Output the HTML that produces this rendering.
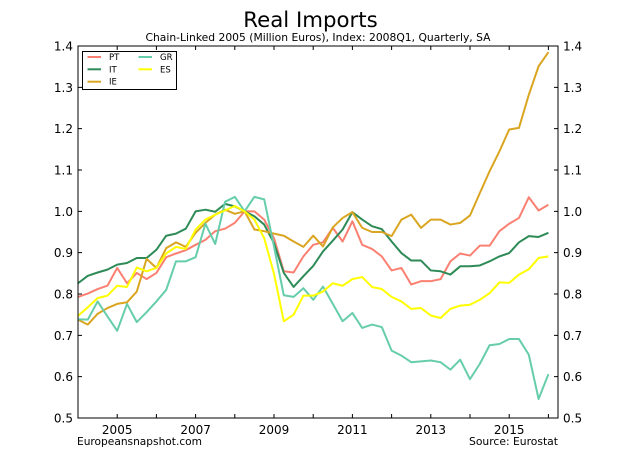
<!DOCTYPE html>
<html><head><meta charset="utf-8"><style>
html,body{margin:0;padding:0;background:#fff;}
svg{display:block;font-family:"DejaVu Sans","Liberation Sans",sans-serif;}
</style></head><body>
<svg width="620" height="465" viewBox="0 0 620 465" xmlns="http://www.w3.org/2000/svg">
<rect width="620" height="465" fill="#fff"/>
<text x="310.5" y="27" font-size="21.3" text-anchor="middle" fill="#000">Real Imports</text>
<text x="318" y="41" font-size="10.7" text-anchor="middle" fill="#000" textLength="345" lengthAdjust="spacingAndGlyphs">Chain-Linked 2005 (Million Euros), Index: 2008Q1, Quarterly, SA</text>

<g fill="none" stroke-width="2" stroke-linejoin="round" transform="matrix(9.8 0 0 -413.333 78 624.667)">
<polyline vector-effect="non-scaling-stroke" stroke="#FA8072" points="0,0.793 1,0.801 2,0.812 3,0.820 4,0.863 5,0.826 6,0.851 7,0.836 8,0.851 9,0.889 10,0.898 11,0.906 12,0.919 13,0.931 14,0.952 15,0.958 16,0.972 17,1.0 18,1.0 19,0.980 20,0.935 21,0.855 22,0.852 23,0.891 24,0.919 25,0.925 26,0.960 27,0.927 28,0.976 29,0.919 30,0.909 31,0.891 32,0.857 33,0.863 34,0.823 35,0.831 36,0.831 37,0.836 38,0.879 39,0.898 40,0.893 41,0.917 42,0.917 43,0.952 44,0.970 45,0.984 46,1.034 47,1.002 48,1.016"/>
<polyline vector-effect="non-scaling-stroke" stroke="#2E8B57" points="0,0.826 1,0.844 2,0.852 3,0.859 4,0.871 5,0.875 6,0.887 7,0.887 8,0.907 9,0.941 10,0.946 11,0.958 12,1.0 13,1.004 14,0.999 15,1.018 16,1.012 17,1.0 18,0.988 19,0.968 20,0.923 21,0.851 22,0.817 23,0.843 24,0.868 25,0.903 26,0.929 27,0.956 28,0.998 29,0.98 30,0.964 31,0.957 32,0.927 33,0.899 34,0.881 35,0.881 36,0.857 37,0.855 38,0.847 39,0.867 40,0.867 41,0.869 42,0.879 43,0.891 44,0.899 45,0.925 46,0.940 47,0.938 48,0.948"/>
<polyline vector-effect="non-scaling-stroke" stroke="#DAA520" points="0,0.738 1,0.726 2,0.752 3,0.766 4,0.776 5,0.780 6,0.806 7,0.885 8,0.863 9,0.911 10,0.925 11,0.914 12,0.948 13,0.972 14,0.992 15,1.004 16,0.994 17,1.0 18,0.956 19,0.952 20,0.946 21,0.941 22,0.927 23,0.914 24,0.941 25,0.915 26,0.961 27,0.984 28,0.998 29,0.96 30,0.95 31,0.95 32,0.94 33,0.98 34,0.992 35,0.96 36,0.98 37,0.98 38,0.968 39,0.972 40,0.99 41,1.044 42,1.097 43,1.145 44,1.198 45,1.202 46,1.282 47,1.351 48,1.385"/>
<polyline vector-effect="non-scaling-stroke" stroke="#66CDAA" points="0,0.739 1,0.738 2,0.782 3,0.746 4,0.711 5,0.776 6,0.732 7,0.756 8,0.782 9,0.810 10,0.879 11,0.879 12,0.889 13,0.970 14,0.921 15,1.023 16,1.035 17,1.0 18,1.035 19,1.029 20,0.915 21,0.797 22,0.793 23,0.814 24,0.786 25,0.818 26,0.776 27,0.734 28,0.754 29,0.718 30,0.726 31,0.720 32,0.663 33,0.651 34,0.635 35,0.637 36,0.639 37,0.635 38,0.617 39,0.641 40,0.594 41,0.631 42,0.676 43,0.679 44,0.691 45,0.691 46,0.653 47,0.546 48,0.606"/>
<polyline vector-effect="non-scaling-stroke" stroke="#FFFF00" points="0,0.747 1,0.768 2,0.790 3,0.796 4,0.820 5,0.817 6,0.864 7,0.855 8,0.863 9,0.898 10,0.914 11,0.909 12,0.956 13,0.980 14,0.992 15,1.002 16,1.013 17,1.0 18,0.980 19,0.935 20,0.849 21,0.734 22,0.750 23,0.796 24,0.796 25,0.806 26,0.826 27,0.820 28,0.836 29,0.841 30,0.817 31,0.812 32,0.793 33,0.782 34,0.764 35,0.766 36,0.748 37,0.742 38,0.764 39,0.772 40,0.774 41,0.786 42,0.802 43,0.828 44,0.827 45,0.847 46,0.860 47,0.887 48,0.891"/>
</g>

<!-- frame -->
<rect x="78" y="46" width="480" height="372" fill="none" stroke="#000" stroke-width="1"/>

<!-- ticks -->
<g stroke="#000" stroke-width="1">
<path d="M117.2,418v-4M156.4,418v-4M195.6,418v-4M234.8,418v-4M274,418v-4M313.2,418v-4M352.4,418v-4M391.6,418v-4M430.8,418v-4M470,418v-4M509.2,418v-4M548.4,418v-4"/>
<path d="M117.2,46v4M156.4,46v4M195.6,46v4M234.8,46v4M274,46v4M313.2,46v4M352.4,46v4M391.6,46v4M430.8,46v4M470,46v4M509.2,46v4M548.4,46v4"/>
<path d="M78,376.67h4M78,335.33h4M78,294h4M78,252.67h4M78,211.33h4M78,170h4M78,128.67h4M78,87.33h4"/>
<path d="M558,376.67h-4M558,335.33h-4M558,294h-4M558,252.67h-4M558,211.33h-4M558,170h-4M558,128.67h-4M558,87.33h-4"/>
</g>

<!-- y labels -->
<g font-size="12" fill="#000" text-anchor="end">
<text x="73" y="422.5">0.5</text>
<text x="73" y="381.2">0.6</text>
<text x="73" y="339.8">0.7</text>
<text x="73" y="298.5">0.8</text>
<text x="73" y="257.2">0.9</text>
<text x="73" y="215.8">1.0</text>
<text x="73" y="174.5">1.1</text>
<text x="73" y="133.2">1.2</text>
<text x="73" y="91.8">1.3</text>
<text x="73" y="50.5">1.4</text>
</g>
<g font-size="12" fill="#000" text-anchor="start">
<text x="563" y="422.5">0.5</text>
<text x="563" y="381.2">0.6</text>
<text x="563" y="339.8">0.7</text>
<text x="563" y="298.5">0.8</text>
<text x="563" y="257.2">0.9</text>
<text x="563" y="215.8">1.0</text>
<text x="563" y="174.5">1.1</text>
<text x="563" y="133.2">1.2</text>
<text x="563" y="91.8">1.3</text>
<text x="563" y="50.5">1.4</text>
</g>
<!-- x labels -->
<g font-size="12" fill="#000" text-anchor="middle">
<text x="117.2" y="434">2005</text>
<text x="195.6" y="434">2007</text>
<text x="274" y="434">2009</text>
<text x="352.4" y="434">2011</text>
<text x="430.8" y="434">2013</text>
<text x="509.2" y="434">2015</text>
</g>

<!-- footer -->
<text x="77" y="445" font-size="10.7" fill="#000" textLength="125" lengthAdjust="spacingAndGlyphs">Europeansnapshot.com</text>
<text x="469" y="445" font-size="10.7" fill="#000" textLength="89" lengthAdjust="spacingAndGlyphs">Source: Eurostat</text>

<!-- legend -->
<rect x="82.5" y="51.5" width="94" height="38" fill="#fff" stroke="#000" stroke-width="1"/>
<g stroke-width="2">
<line x1="87.5" y1="57" x2="101" y2="57" stroke="#FA8072"/>
<line x1="87.5" y1="69.3" x2="101" y2="69.3" stroke="#2E8B57"/>
<line x1="87.5" y1="81.7" x2="101" y2="81.7" stroke="#DAA520"/>
<line x1="138.5" y1="57" x2="152" y2="57" stroke="#66CDAA"/>
<line x1="138.5" y1="69.3" x2="152" y2="69.3" stroke="#FFFF00"/>
</g>
<g font-size="8.5" fill="#000">
<text x="109" y="60">PT</text>
<text x="109" y="72.3">IT</text>
<text x="109" y="84.7">IE</text>
<text x="160" y="60">GR</text>
<text x="160" y="72.3">ES</text>
</g>
</svg>
</body></html>
